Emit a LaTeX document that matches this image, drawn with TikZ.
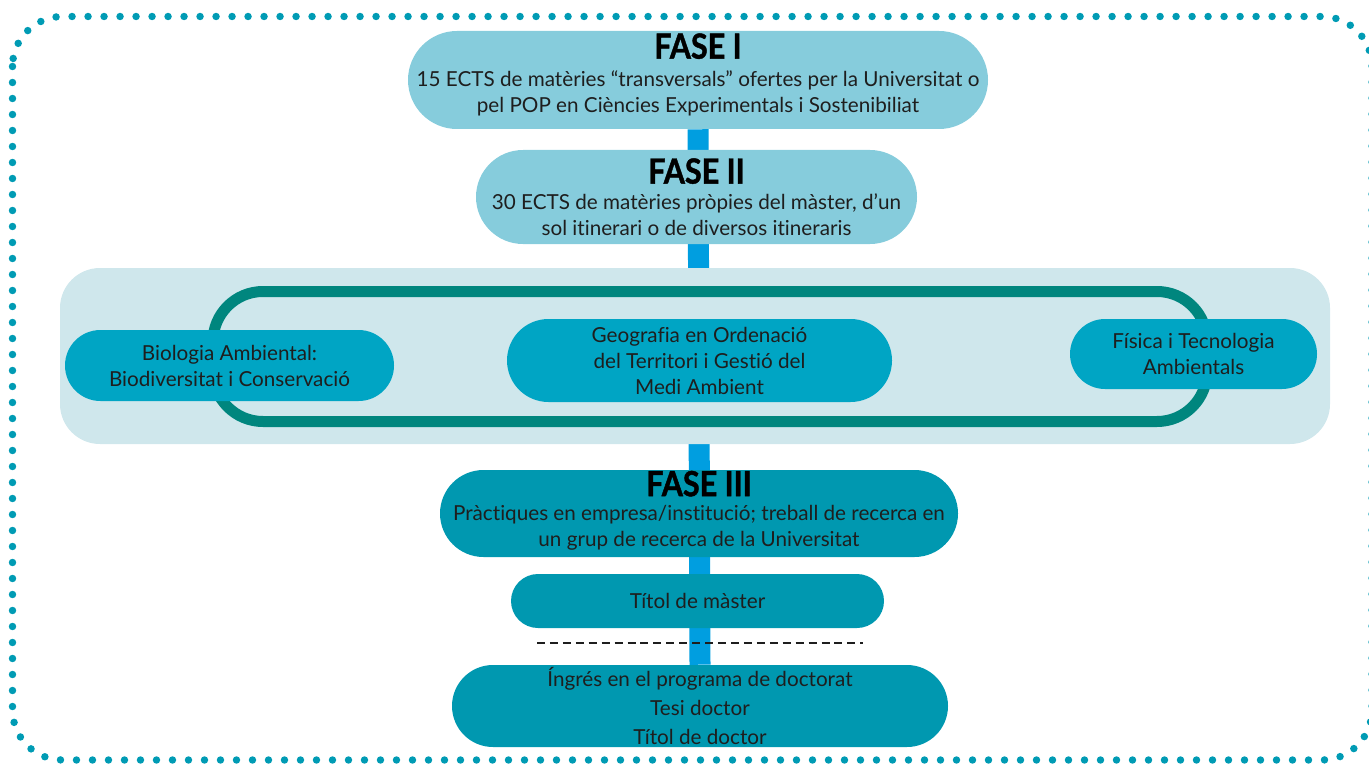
\documentclass[tikz,border=0pt]{standalone}
\usepackage{fontspec}
\setmainfont{Lato}[Ligatures=NoCommon]
\newfontfamily\headfont{Lato}[Ligatures=NoCommon, FakeStretch=0.88, FakeBold=1.2]
\usetikzlibrary{backgrounds}

\definecolor{dotteal}{RGB}{0,155,180}
\definecolor{faselight}{RGB}{134,204,220}
\definecolor{bandlight}{RGB}{207,231,236}
\definecolor{ringteal}{RGB}{0,134,126}
\definecolor{itinblue}{RGB}{0,165,196}
\definecolor{deepteal}{RGB}{0,152,176}
\definecolor{barblue}{RGB}{0,158,224}
\definecolor{txtdark}{RGB}{30,30,30}

\newcommand{\fasehead}{\headfont\fontsize{26}{26}\selectfont\bfseries\color{black}}

\tikzset{
  pill/.style={inner sep=0pt, align=center, text=txtdark,
    font=\fontsize{15.5}{19.5}\selectfont},
  fasebox/.style={pill, fill=faselight},
  itinbox/.style={pill, fill=itinblue},
  deepbox/.style={pill, fill=deepteal},
  bar/.style={draw=barblue, line width=15.75pt},
  frame/.style={draw=dotteal, line width=5.6pt, line cap=round,
    dash pattern=on 0pt off 12pt, rounded corners=37.5pt},
}

\begin{document}
\begin{tikzpicture}[x=0.75pt,y=0.75pt,yscale=-1,xscale=1]
\useasboundingbox (0,0) rectangle (1369,763);

%Dotted frame
\draw[frame] (12.5,16.5) rectangle (1372,760);

%Phase boxes
\node[fasebox, minimum width=435pt, minimum height=73.5pt, rounded corners=36.75pt, text depth=11pt] (fase1) at (698,80)
  {{\fasehead FASE I}\\[1pt]15 ECTS de matèries “transversals” ofertes per la Universitat o\\pel POP en Ciències Experimentals i Sostenibiliat};
\node[fasebox, minimum width=330.75pt, minimum height=70.5pt, rounded corners=35.25pt] (fase2) at (696.5,197)
  {{\fasehead FASE II}\\[0pt]30 ECTS de matèries pròpies del màster, d’un\\sol itinerari o de diversos itineraris};

%Itineraries
\node[itinbox, minimum width=246.75pt, minimum height=53.25pt, rounded corners=26.6pt] (bio) at (229.5,365.5)
  {Biologia Ambiental:\\Biodiversitat i Conservació};
\node[itinbox, minimum width=288.75pt, minimum height=62.25pt, rounded corners=31.1pt] (geo) at (699.5,360.5)
  {Geografia en Ordenació\\del Territori i Gestió del\\Medi Ambient};
\node[itinbox, minimum width=185.25pt, minimum height=52.5pt, rounded corners=26.25pt] (fis) at (1193.5,354)
  {Física i Tecnologia\\Ambientals};

\node[deepbox, minimum width=388.5pt, minimum height=65.25pt, rounded corners=32.6pt, text depth=7pt] (fase3) at (699,513.5)
  {{\fasehead FASE III}\\[-1pt]Pràctiques en empresa/institució; treball de recerca en\\un grup de recerca de la Universitat};
\node[deepbox, minimum width=279.75pt, minimum height=40.5pt, rounded corners=20.25pt] (master) at (697.5,601)
  {Títol de màster};
\node[deepbox, minimum width=372pt, minimum height=61.5pt, rounded corners=30.75pt,
  font=\fontsize{15.5}{21.75}\selectfont] (doc) at (700,706)
  {Íngrés en el programa de doctorat\\Tesi doctor\\Títol de doctor};

%Band, ring and bar behind
\begin{scope}[on background layer]
\draw[bar] (fase1.south) -- (doc.north);
\node[fill=bandlight, minimum width=952.5pt, minimum height=132pt, rounded corners=30pt] (band) at (695,356) {};
\node[draw=ringteal, line width=8.25pt, minimum width=745.5pt, minimum height=97.5pt, rounded corners=37.5pt] (ring) at (710,356.5) {};
\end{scope}

%Dashed separator
\coordinate (sepL) at (537,643);
\coordinate (sepR) at (863,643);
\draw[txtdark, line width=2.2pt, dash pattern=on 6pt off 3.7pt] (sepL) -- (sepR);

\end{tikzpicture}
\end{document}
